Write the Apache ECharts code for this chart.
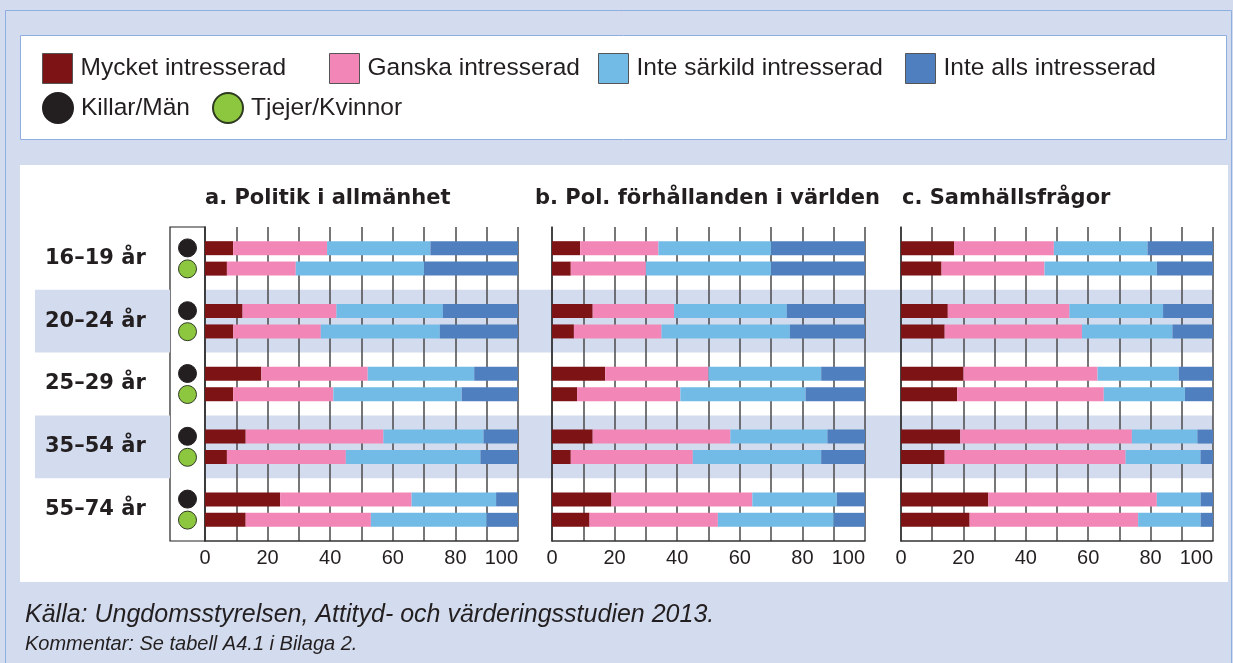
<!DOCTYPE html>
<html><head><meta charset="utf-8">
<script src="https://cdn.jsdelivr.net/npm/echarts@6/dist/echarts.min.js"></script>
<style>html,body{margin:0;padding:0;background:#d3dcee;}#c{width:1233px;height:663px;}</style>
</head><body><div id="c"></div>
<script>
// ---- data ----
const categories = ['16–19 år', '20–24 år', '25–29 år', '35–54 år', '55–74 år'];
const levels = ['Mycket intresserad', 'Ganska intresserad', 'Inte särkild intresserad', 'Inte alls intresserad'];
const genders = ['Killar/Män', 'Tjejer/Kvinnor'];
const panelTitles = ['a. Politik i allmänhet', 'b. Pol. förhållanden i världen', 'c. Samhällsfrågor'];
const xTickLabels = [0, 20, 40, 60, 80, 100];

// a. Politik i allmänhet
const aMenMycket = [9, 12, 18, 13, 24];
const aMenGanska = [30, 30, 34, 44, 42];
const aMenInteSarkild = [33, 34, 34, 32, 27];
const aMenInteAlls = [28, 24, 14, 11, 7];
const aWomenMycket = [7, 9, 9, 7, 13];
const aWomenGanska = [22, 28, 32, 38, 40];
const aWomenInteSarkild = [41, 38, 41, 43, 37];
const aWomenInteAlls = [30, 25, 18, 12, 10];

// b. Pol. förhållanden i världen
const bMenMycket = [9, 13, 17, 13, 19];
const bMenGanska = [25, 26, 33, 44, 45];
const bMenInteSarkild = [36, 36, 36, 31, 27];
const bMenInteAlls = [30, 25, 14, 12, 9];
const bWomenMycket = [6, 7, 8, 6, 12];
const bWomenGanska = [24, 28, 33, 39, 41];
const bWomenInteSarkild = [40, 41, 40, 41, 37];
const bWomenInteAlls = [30, 24, 19, 14, 10];

// c. Samhällsfrågor
const cMenMycket = [17, 15, 20, 19, 28];
const cMenGanska = [32, 39, 43, 55, 54];
const cMenInteSarkild = [30, 30, 26, 21, 14];
const cMenInteAlls = [21, 16, 11, 5, 4];
const cWomenMycket = [13, 14, 18, 14, 22];
const cWomenGanska = [33, 44, 47, 58, 54];
const cWomenInteSarkild = [36, 29, 26, 24, 20];
const cWomenInteAlls = [18, 13, 9, 4, 4];

const panelData = [
  [[aMenMycket, aMenGanska, aMenInteSarkild, aMenInteAlls], [aWomenMycket, aWomenGanska, aWomenInteSarkild, aWomenInteAlls]],
  [[bMenMycket, bMenGanska, bMenInteSarkild, bMenInteAlls], [bWomenMycket, bWomenGanska, bWomenInteSarkild, bWomenInteAlls]],
  [[cMenMycket, cMenGanska, cMenInteSarkild, cMenInteAlls], [cWomenMycket, cWomenGanska, cWomenInteSarkild, cWomenInteAlls]]
];

// ---- style ----
const levelColors = ['#7d1315', '#f287b7', '#72bbe6', '#4f7fbe'];
const bandColor = '#d3dcee';
const textColor = '#231f20';
const gridLineColor = '#4a4a4a';
const TOP = 227, H = 314;
const panelLeft = [205, 552, 901];
const panelWidth = [313, 313, 312];
const titleLeft = [205, 535, 902];

const grids = [
  { left: 35, top: TOP, width: 135, height: H },
  { left: 205, top: TOP, width: 1008, height: H },
  { left: 170, top: TOP, width: 35, height: H, show: true, backgroundColor: '#ffffff', borderColor: '#222', borderWidth: 1.2 }
];
const xAxes = [
  { gridIndex: 0, type: 'value', show: false },
  { gridIndex: 1, type: 'value', show: false },
  { gridIndex: 2, type: 'value', min: 0, max: 1, show: false }
];
const bandY = (gi) => ({
  gridIndex: gi, type: 'category', data: categories, inverse: true,
  axisLine: { show: false }, axisTick: { show: false }, axisLabel: { show: false },
  splitLine: { show: false },
  splitArea: { show: true, areaStyle: { color: ['rgba(0,0,0,0)', bandColor] } }
});
const yAxes = [
  bandY(0), bandY(1),
  {
    gridIndex: 2, type: 'category', data: categories, inverse: true,
    axisLine: { show: false }, axisTick: { show: false },
    axisLabel: { show: true, align: 'left', margin: 125, fontFamily: 'DejaVu Sans', fontWeight: 'bold', fontSize: 21, color: textColor }
  }
];
const series = [];
const titles = [];
panelTitles.forEach((t, p) => {
  grids.push({ left: panelLeft[p], top: TOP, width: panelWidth[p], height: H });
  xAxes.push({
    gridIndex: 3 + p, type: 'value', min: 0, max: 100, interval: 10,
    axisLine: { show: true, lineStyle: { color: '#333', width: 1.5 } },
    axisTick: { show: false },
    axisLabel: {
      margin: 7, fontFamily: 'Liberation Sans', fontSize: 20, color: textColor,
      alignMaxLabel: 'right',
      formatter: (v) => (xTickLabels.indexOf(v) >= 0 ? String(v) : '')
    },
    splitLine: { show: true, lineStyle: { color: gridLineColor, width: 1.5 } }
  });
  yAxes.push({
    gridIndex: 3 + p, type: 'category', data: categories, inverse: true,
    axisLine: { show: true, lineStyle: { color: '#333', width: 1.5 } },
    axisTick: { show: false }, axisLabel: { show: false }, splitLine: { show: false }
  });
  titles.push({
    text: t, left: titleLeft[p], top: 188, padding: 0,
    textStyle: { fontFamily: 'DejaVu Sans', fontWeight: 'bold', fontSize: 21, color: textColor }
  });
  levels.forEach((lv, l) => {
    [0, 1].forEach((g) => {
      series.push({
        name: lv, type: 'bar', xAxisIndex: 3 + p, yAxisIndex: 3 + p,
        stack: 'p' + p + 'g' + g, barWidth: 14, barGap: '46%',
        itemStyle: { color: levelColors[l] },
        data: panelData[p][g][l]
      });
    });
  });
});
series.push({
  name: genders[0], type: 'scatter', xAxisIndex: 2, yAxisIndex: 2,
  symbol: 'circle', symbolSize: 18, symbolOffset: [0, -10.5],
  itemStyle: { color: '#231f20', borderColor: '#231f20', borderWidth: 1, opacity: 1 },
  data: categories.map((c) => [0.5, c])
});
series.push({
  name: genders[1], type: 'scatter', xAxisIndex: 2, yAxisIndex: 2,
  symbol: 'circle', symbolSize: 18, symbolOffset: [0, 10.5],
  itemStyle: { color: '#8dc63f', borderColor: '#2f3a22', borderWidth: 1, opacity: 1 },
  data: categories.map((c) => [0.5, c])
});

const legendText = { fontFamily: 'Liberation Sans', fontSize: 24.5, color: textColor, padding: [0, 0, 0, 3] };
const legendPos = [[42, 53], [329, 53], [598, 53], [905, 53]];
const legends = levels.map((lv, i) => ({
  data: [lv], left: legendPos[i][0], top: legendPos[i][1], itemWidth: 30, itemHeight: 30,
  icon: 'rect', selectedMode: false, padding: 0, itemGap: 0, textStyle: legendText,
  itemStyle: { borderColor: '#555', borderWidth: 1 }
}));
legends.push({ data: [genders[0]], left: 42, top: 92, itemWidth: 30, itemHeight: 30, icon: 'circle', selectedMode: false, padding: 0, textStyle: legendText });
legends.push({ data: [genders[1]], left: 212, top: 92, itemWidth: 30, itemHeight: 30, icon: 'circle', selectedMode: false, padding: 0, textStyle: legendText });

const chart = echarts.init(document.getElementById('c'), null, { renderer: 'canvas' });
chart.setOption({
  animation: false,
  backgroundColor: bandColor,
  title: titles,
  legend: legends,
  grid: grids,
  xAxis: xAxes,
  yAxis: yAxes,
  series: series,
  graphic: [
    { type: 'rect', z: -10, shape: { x: 5.5, y: 10.5, width: 1226, height: 660 }, style: { fill: bandColor, stroke: '#8eaee0', lineWidth: 1 } },
    { type: 'rect', z: -9, shape: { x: 20.5, y: 35.5, width: 1206, height: 104 }, style: { fill: '#ffffff', stroke: '#8eaee0', lineWidth: 1 } },
    { type: 'rect', z: -9, shape: { x: 20, y: 165, width: 1208, height: 417 }, style: { fill: '#ffffff' } },
    { type: 'text', z: 5, style: { text: 'Källa: Ungdomsstyrelsen, Attityd- och värderingsstudien 2013.', x: 25, y: 615, textVerticalAlign: 'middle', font: 'italic 25px "Liberation Sans"', fill: textColor } },
    { type: 'text', z: 5, style: { text: 'Kommentar: Se tabell A4.1 i Bilaga 2.', x: 25, y: 644, textVerticalAlign: 'middle', font: 'italic 20px "Liberation Sans"', fill: textColor } }
  ]
});
</script></body></html>
